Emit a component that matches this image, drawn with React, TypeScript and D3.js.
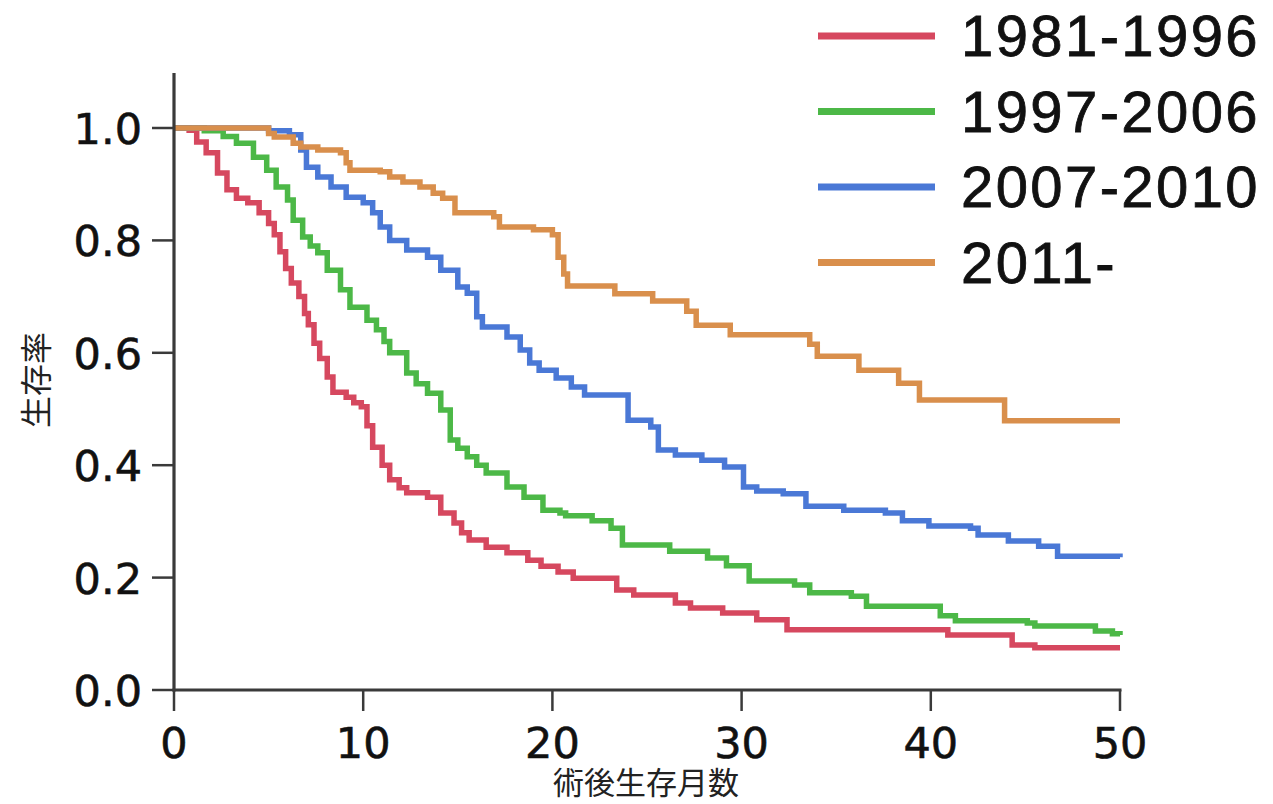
import React from "react";
import * as d3 from "d3";

type Pt = [number, number];

const seriesNames = ["1981-1996", "1997-2006", "2007-2010", "2011-"];
const seriesColors = ["#d6485f", "#4cb847", "#4a78d6", "#d98f4c"];

const s1981: Pt[] = [
  [0, 1], [0.8, 0.996], [1.2, 0.975], [1.7, 0.956], [2.3, 0.92], [2.8, 0.89], [3.3, 0.875],
  [3.9, 0.867], [4.5, 0.849], [5.0, 0.83], [5.3, 0.81], [5.6, 0.78], [5.9, 0.75], [6.2, 0.724],
  [6.6, 0.7], [6.9, 0.67], [7.1, 0.65], [7.4, 0.617], [7.7, 0.59], [8.1, 0.557], [8.4, 0.53],
  [9.1, 0.521], [9.5, 0.511], [9.9, 0.504], [10.2, 0.47], [10.5, 0.432], [11.0, 0.4],
  [11.4, 0.374], [11.9, 0.36], [12.3, 0.351], [13.4, 0.343], [14.1, 0.315], [14.8, 0.297],
  [15.2, 0.28], [15.6, 0.267], [16.5, 0.254], [17.6, 0.244], [18.7, 0.231], [19.4, 0.22],
  [20.3, 0.21], [21.1, 0.199], [23.4, 0.178], [24.3, 0.169], [26.5, 0.155], [27.3, 0.146],
  [29.0, 0.137], [30.8, 0.125], [32.4, 0.107], [40.9, 0.098], [44.3, 0.08], [45.5, 0.075],
  [50, 0.075],
];

const s1997: Pt[] = [
  [0, 1], [1.6, 0.995], [2.6, 0.985], [3.3, 0.973], [4.2, 0.948], [4.9, 0.925], [5.4, 0.895],
  [6.0, 0.872], [6.3, 0.836], [6.8, 0.806], [7.2, 0.79], [7.6, 0.778], [8.1, 0.747],
  [8.8, 0.712], [9.3, 0.681], [10.2, 0.658], [10.7, 0.641], [11.1, 0.62], [11.4, 0.6],
  [12.3, 0.564], [12.8, 0.545], [13.4, 0.528], [14.1, 0.498], [14.6, 0.445], [15.0, 0.43],
  [15.5, 0.415], [16.0, 0.4], [16.5, 0.386], [17.6, 0.361], [18.5, 0.343], [19.5, 0.32],
  [20.4, 0.315], [20.7, 0.31], [22.1, 0.301], [23.1, 0.288], [23.7, 0.258], [26.2, 0.247],
  [28.2, 0.235], [29.2, 0.221], [30.4, 0.194], [32.8, 0.187], [33.6, 0.173], [35.8, 0.167],
  [36.6, 0.149], [40.5, 0.132], [41.3, 0.123], [45.1, 0.119], [45.5, 0.114], [48.7, 0.105],
  [49.6, 0.1], [50, 0.098],
];

const s2007: Pt[] = [
  [0, 1], [5.0, 0.995], [6.1, 0.988], [6.7, 0.961], [7.0, 0.93], [7.6, 0.913], [8.3, 0.895],
  [9.1, 0.877], [10.0, 0.867], [10.5, 0.849], [10.9, 0.824], [11.4, 0.8], [12.3, 0.783],
  [13.4, 0.77], [14.1, 0.747], [15.0, 0.717], [15.5, 0.706], [16.0, 0.664], [16.3, 0.646],
  [17.6, 0.628], [18.3, 0.605], [18.8, 0.582], [19.3, 0.569], [20.2, 0.555], [21.0, 0.539],
  [21.7, 0.525], [24.0, 0.48], [25.2, 0.468], [25.6, 0.427], [26.5, 0.418], [27.9, 0.409],
  [29.1, 0.397], [30.1, 0.361], [30.8, 0.354], [32.2, 0.349], [33.4, 0.327], [35.4, 0.32],
  [37.6, 0.315], [38.5, 0.301], [39.9, 0.292], [42.1, 0.288], [42.5, 0.276], [44.1, 0.265],
  [45.7, 0.256], [46.7, 0.238], [50, 0.236],
];

const s2011: Pt[] = [
  [0, 1], [5.0, 0.99], [5.3, 0.984], [6.3, 0.973], [6.7, 0.966], [7.6, 0.961], [8.8, 0.956],
  [9.1, 0.938], [9.3, 0.925], [10.9, 0.922], [11.4, 0.913], [12.1, 0.904], [13.0, 0.895],
  [13.7, 0.884], [14.2, 0.875], [14.85, 0.849], [16.9, 0.842], [17.2, 0.824], [19.0, 0.819],
  [20.0, 0.81], [20.3, 0.77], [20.6, 0.74], [20.8, 0.719], [23.3, 0.705], [25.3, 0.692],
  [27.1, 0.674], [27.6, 0.649], [29.4, 0.632], [33.6, 0.615], [34.0, 0.594], [36.2, 0.569],
  [38.3, 0.546], [39.4, 0.516], [43.9, 0.479], [50, 0.479],
];

const seriesData: Pt[][] = [s1981, s1997, s2007, s2011];

const xTicks = [0, 10, 20, 30, 40, 50];
const yTicks = [0, 0.2, 0.4, 0.6, 0.8, 1.0];
const xTitle = "術後生存月数";
const yTitle = "生存率";

export default function App() {
  const W = 1273;
  const H = 804;
  const x = d3.scaleLinear().domain([0, 50]).range([174, 1120]);
  const y = d3.scaleLinear().domain([0, 1]).range([690, 128]);
  const line = d3
    .line<Pt>()
    .x((d) => x(d[0]))
    .y((d) => y(d[1]))
    .curve(d3.curveStepAfter);
  const axisColor = "#3a3a3a";
  const tickFont = "'DejaVu Sans', sans-serif";
  const cjkFont = "'Noto Sans CJK JP', 'Noto Sans CJK SC', sans-serif";

  return (
    <svg
      width={W}
      height={H}
      style={{ position: "absolute", left: 0, top: 0, background: "#fff" }}
    >
      <rect x={0} y={0} width={W} height={H} fill="#fff" />
      {seriesData.map((d, i) => (
        <path
          key={i}
          d={line(d) || ""}
          fill="none"
          stroke={seriesColors[i]}
          strokeWidth={5.5}
          strokeLinejoin="miter"
        />
      ))}
      <line x1={x(0)} x2={x(0)} y1={73} y2={y(0) + 1.5} stroke={axisColor} strokeWidth={3.2} />
      <line x1={x(0) - 1.5} x2={x(50) + 1.5} y1={y(0)} y2={y(0)} stroke={axisColor} strokeWidth={3.2} />
      {yTicks.map((t) => (
        <g key={"y" + t}>
          <line x1={x(0) - 22} x2={x(0)} y1={y(t)} y2={y(t)} stroke={axisColor} strokeWidth={2.5} />
          <text
            x={x(0) - 32}
            y={y(t) + 16}
            textAnchor="end"
            fontFamily={tickFont}
            fontSize={43}
            fill="#111"
            stroke="#111"
            strokeWidth={0.6}
          >
            {t.toFixed(1)}
          </text>
        </g>
      ))}
      {xTicks.map((t) => (
        <g key={"x" + t}>
          <line x1={x(t)} x2={x(t)} y1={y(0)} y2={y(0) + 21} stroke={axisColor} strokeWidth={2.5} />
          <text
            x={x(t)}
            y={758}
            textAnchor="middle"
            fontFamily={tickFont}
            fontSize={43}
            fill="#111"
            stroke="#111"
            strokeWidth={0.6}
          >
            {t}
          </text>
        </g>
      ))}
      <text
        x={646}
        y={794}
        textAnchor="middle"
        fontFamily={cjkFont}
        fontSize={31}
        fill="#222"
      >
        {xTitle}
      </text>
      <text
        transform="translate(34,380) rotate(-90)"
        textAnchor="middle"
        dominantBaseline="central"
        fontFamily={cjkFont}
        fontSize={32}
        fill="#222"
      >
        {yTitle}
      </text>
      {seriesNames.map((n, i) => {
        const ly = 36 + 75.5 * i;
        return (
          <g key={n}>
            <line x1={818} x2={935} y1={ly} y2={ly} stroke={seriesColors[i]} strokeWidth={7} />
            <text
              x={961}
              y={ly + 20}
              fontFamily="'Liberation Sans', Arial, sans-serif"
              fontSize={58}
              letterSpacing={2.4}
              fill="#111"
              stroke="#111"
              strokeWidth={0.8}
            >
              {n}
            </text>
          </g>
        );
      })}
    </svg>
  );
}
